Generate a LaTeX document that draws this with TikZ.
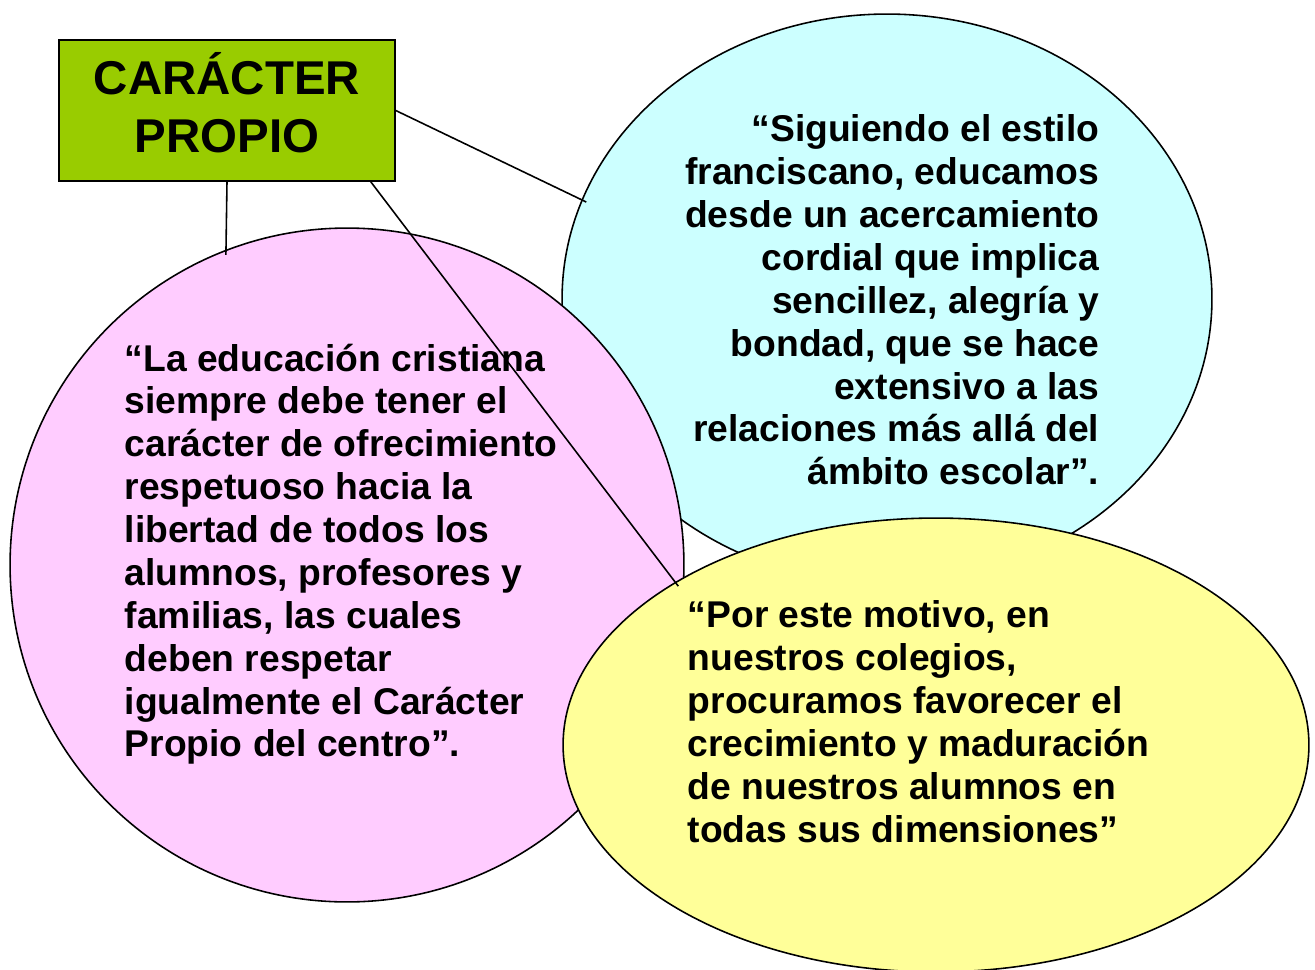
\documentclass[tikz,border=0pt]{standalone}
\usepackage{fontspec}
\setmainfont{Liberation Sans}
\usepackage{tikz}
\usetikzlibrary{shapes.geometric}
\definecolor{titlegreen}{HTML}{99CC00}
\definecolor{bubblecyan}{HTML}{CCFFFF}
\definecolor{bubblepink}{HTML}{FFCCFF}
\definecolor{bubbleyellow}{HTML}{FFFF99}

\begin{document}
\begin{tikzpicture}[x=0.02cm,y=-0.02cm,line width=0.9pt,
    bubble/.style={ellipse,draw,inner sep=0pt},
    quote/.style={inner sep=0pt,font=\fontsize{21.2}{24.4}\selectfont\bfseries}]
    \useasboundingbox (0,0) rectangle (1315,970);
    \node[bubble] (cyan) [fill=bubblecyan, minimum width=13cm, minimum height=11.4cm] at (887,299) {};
    \node[bubble] (pink) [fill=bubblepink, minimum width=13.48cm, minimum height=13.48cm] at (347,565) {};
    \node[bubble] (yellow) [fill=bubbleyellow, minimum width=14.92cm, minimum height=9.08cm] at (936,745) {};
    \node[draw] (box) [fill=titlegreen, minimum width=6.72cm, minimum height=2.82cm, align=center,
        text depth=0.32cm, font=\fontsize{27}{32.6}\selectfont\bfseries] at (227,110.5) {CARÁCTER\\PROPIO};
    \node[quote] (cyantext) [anchor=north east, align=right] at (1100,114)
        {“Siguiendo el estilo\\franciscano, educamos\\desde un acercamiento\\cordial que implica\\sencillez, alegría y\\bondad, que se hace\\extensivo a las\\relaciones más allá del\\ámbito escolar”.};
    \node[quote] (pinktext) [anchor=north west, align=left] at (124,343)
        {“La educación cristiana\\siempre debe tener el\\carácter de ofrecimiento\\respetuoso hacia la\\libertad de todos los\\alumnos, profesores y\\familias, las cuales\\deben respetar\\igualmente el Carácter\\Propio del centro”.};
    \node[quote] (yellowtext) [anchor=north west, align=left] at (687,600)
        {“Por este motivo, en\\nuestros colegios,\\procuramos favorecer el\\crecimiento y maduración\\de nuestros alumnos en\\todas sus dimensiones”};
    \path[shorten >=-3pt]
    (box.east) edge (cyan.162)
    (box.south) edge (pink.111)
    ([xshift=-0.5cm]box.south east) edge (yellow.148);
\end{tikzpicture}
\end{document}
